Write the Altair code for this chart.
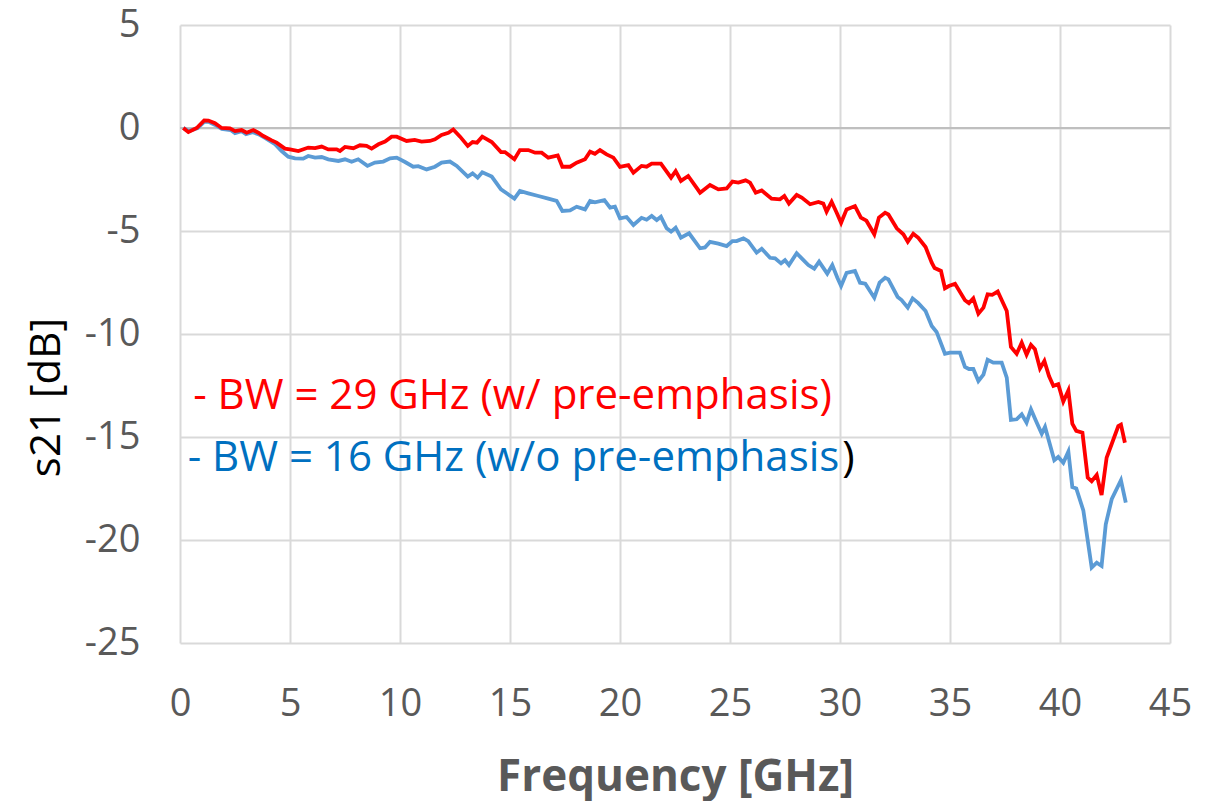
import altair as alt
import pandas as pd

# ---- data ----
freq_red = [0.15, 0.38, 0.76, 1.1, 1.29, 1.59, 1.89, 2.27, 2.5, 2.8,
            3.03, 3.33, 3.56, 3.79, 4.17, 4.39, 4.77, 5.0, 5.38, 5.83,
            6.14, 6.44, 6.74, 7.12, 7.27, 7.5, 7.88, 8.18, 8.48, 8.71,
            9.02, 9.32, 9.62, 9.85, 10.3, 10.67, 10.98, 11.36, 11.59, 11.89,
            12.2, 12.42, 12.73, 13.08, 13.3, 13.5, 13.74, 14.17, 14.59, 14.77,
            15.2, 15.45, 15.83, 16.14, 16.44, 16.74, 17.17, 17.38, 17.73, 18.03,
            18.41, 18.64, 18.86, 19.09, 19.39, 19.7, 20.0, 20.38, 20.61, 20.98,
            21.21, 21.44, 21.86, 22.32, 22.53, 22.77, 23.1, 23.64, 24.09, 24.47,
            24.85, 25.11, 25.38, 25.71, 25.91, 26.17, 26.44, 26.89, 27.27, 27.47,
            27.68, 28.03, 28.26, 28.64, 29.02, 29.24, 29.39, 29.62, 29.85, 30.05,
            30.3, 30.68, 30.95, 31.2, 31.56, 31.77, 32.05, 32.2, 32.58, 32.88,
            33.08, 33.33, 33.56, 33.89, 34.17, 34.3, 34.59, 34.77, 34.95, 35.23,
            35.68, 35.86, 36.06, 36.29, 36.52, 36.71, 36.92, 37.17, 37.58, 37.77,
            38.03, 38.26, 38.48, 38.68, 38.86, 39.09, 39.29, 39.5, 39.7, 39.92,
            40.15, 40.38, 40.56, 40.74, 41.02, 41.26, 41.44, 41.67, 41.89, 42.12,
            42.35, 42.65, 42.77, 42.95]
s21_red = [0.0, -0.2, 0.0, 0.37, 0.36, 0.23, 0.0, -0.02, -0.15, -0.1,
           -0.23, -0.1, -0.23, -0.39, -0.6, -0.71, -1.0, -1.04, -1.12, -0.95,
           -0.98, -0.9, -1.04, -1.04, -1.12, -0.92, -0.98, -0.84, -0.87, -1.0,
           -0.79, -0.66, -0.42, -0.42, -0.63, -0.58, -0.66, -0.63, -0.55, -0.34,
           -0.23, -0.07, -0.42, -0.87, -0.68, -0.71, -0.42, -0.68, -1.17, -1.17,
           -1.52, -1.07, -1.07, -1.2, -1.2, -1.44, -1.33, -1.88, -1.88, -1.68,
           -1.52, -1.15, -1.25, -1.07, -1.28, -1.44, -1.89, -1.8, -2.17, -1.84,
           -1.88, -1.73, -1.73, -2.41, -2.09, -2.57, -2.33, -3.14, -2.77, -2.98,
           -2.93, -2.6, -2.65, -2.54, -2.65, -3.14, -3.03, -3.43, -3.46, -3.3,
           -3.67, -3.25, -3.38, -3.7, -3.59, -3.67, -4.06, -3.58, -4.11, -4.6,
           -3.95, -3.79, -4.35, -4.5, -5.16, -4.35, -4.11, -4.2, -4.87, -5.16,
           -5.52, -5.13, -5.33, -5.78, -6.54, -6.8, -6.94, -7.78, -7.67, -7.56,
           -8.36, -8.5, -8.27, -9.01, -8.72, -8.07, -8.1, -7.94, -8.88, -10.63,
           -10.96, -10.42, -11.0, -10.53, -10.74, -11.67, -11.31, -12.04, -12.52, -12.44,
           -13.28, -12.74, -14.35, -14.7, -14.79, -16.97, -17.15, -16.84, -17.82, -16.0,
           -15.34, -14.47, -14.4, -15.28]

freq_blue = [0.15, 0.4, 0.8, 1.1, 1.3, 1.6, 1.9, 2.3, 2.5, 2.8,
             3.0, 3.3, 3.56, 3.9, 4.32, 4.62, 4.92, 5.23, 5.6, 5.83,
             6.14, 6.44, 6.74, 7.2, 7.5, 7.8, 8.1, 8.52, 8.86, 9.24,
             9.55, 9.85, 10.23, 10.6, 10.83, 11.21, 11.59, 11.89, 12.27, 12.58,
             13.08, 13.3, 13.53, 13.74, 14.17, 14.59, 14.85, 15.2, 15.45, 15.83,
             16.29, 16.74, 17.12, 17.38, 17.73, 18.03, 18.41, 18.64, 18.86, 19.29,
             19.55, 19.77, 20.0, 20.3, 20.61, 20.98, 21.21, 21.44, 21.67, 21.86,
             22.12, 22.32, 22.53, 22.77, 23.14, 23.64, 23.86, 24.09, 24.47, 24.85,
             25.11, 25.3, 25.61, 25.83, 26.21, 26.44, 26.82, 27.05, 27.32, 27.5,
             27.68, 28.03, 28.26, 28.56, 28.83, 29.05, 29.42, 29.65, 29.88, 30.05,
             30.3, 30.68, 30.91, 31.15, 31.56, 31.8, 32.05, 32.2, 32.62, 32.8,
             33.08, 33.3, 33.56, 33.89, 34.17, 34.39, 34.77, 35.0, 35.45, 35.68,
             35.86, 36.06, 36.29, 36.52, 36.71, 36.97, 37.35, 37.58, 37.77, 38.03,
             38.26, 38.48, 38.68, 38.94, 39.17, 39.32, 39.74, 39.92, 40.15, 40.38,
             40.56, 40.74, 41.06, 41.44, 41.67, 41.89, 42.08, 42.35, 42.77, 42.99]
s21_blue = [0.0, -0.15, 0.0, 0.3, 0.3, 0.15, -0.05, -0.1, -0.25, -0.15,
            -0.3, -0.2, -0.3, -0.5, -0.79, -1.12, -1.39, -1.47, -1.49, -1.36,
            -1.44, -1.41, -1.52, -1.6, -1.52, -1.64, -1.52, -1.84, -1.68, -1.63,
            -1.47, -1.44, -1.65, -1.88, -1.85, -2.01, -1.88, -1.68, -1.63, -1.84,
            -2.36, -2.2, -2.41, -2.15, -2.36, -2.98, -3.17, -3.43, -3.06, -3.17,
            -3.3, -3.43, -3.54, -4.03, -4.0, -3.82, -3.95, -3.54, -3.61, -3.5,
            -3.87, -3.82, -4.39, -4.32, -4.71, -4.36, -4.45, -4.27, -4.47, -4.31,
            -4.87, -5.03, -4.84, -5.32, -5.11, -5.84, -5.8, -5.53, -5.61, -5.73,
            -5.49, -5.49, -5.36, -5.49, -6.05, -5.86, -6.3, -6.33, -6.57, -6.42,
            -6.65, -6.08, -6.33, -6.65, -6.83, -6.49, -7.07, -6.65, -7.27, -7.67,
            -7.03, -6.94, -7.51, -7.56, -8.24, -7.51, -7.27, -7.35, -8.2, -8.35,
            -8.72, -8.27, -8.5, -8.88, -9.61, -9.9, -10.96, -10.9, -10.9, -11.6,
            -11.7, -11.7, -12.28, -11.97, -11.25, -11.39, -11.39, -12.12, -14.17, -14.14,
            -13.9, -14.3, -13.66, -14.3, -14.84, -14.51, -16.13, -15.97, -16.25, -15.71,
            -17.43, -17.5, -18.56, -21.34, -21.1, -21.26, -19.24, -18.02, -17.1, -18.19]

x_ticks = [0, 5, 10, 15, 20, 25, 30, 35, 40, 45]
y_ticks = [5, 0, -5, -10, -15, -20, -25]

label_texts = ["- BW = 29 GHz (w/ pre-emphasis)", "- BW = 16 GHz (w/o pre-emphasis", ")"]
label_x = [0.6, 0.35, 30.1]
label_y = [-13.0, -16.0, -16.0]
label_colors = ["#FF0000", "#0070C0", "#000000"]

# ---- tables ----
df_red = pd.DataFrame({"f": freq_red, "s21": s21_red})
df_blue = pd.DataFrame({"f": freq_blue, "s21": s21_blue})
df_zero = pd.DataFrame({"s21": [0]})
df_lab = pd.DataFrame({"f": label_x, "s21": label_y, "t": label_texts, "c": label_colors})

FONT = "Open Sans"
xscale = alt.Scale(domain=[0, 45], nice=False, zero=False)
yscale = alt.Scale(domain=[-25, 5], nice=False, zero=False)

x_axis = alt.Axis(values=x_ticks, title="Frequency [GHz]", grid=True, domain=False, ticks=False,
                  labelFlush=False, labelExpr="datum.value + ''",
                  labelFont=FONT, labelFontSize=38, labelColor="#595959", labelPadding=42,
                  titleFont=FONT, titleFontSize=44, titleFontWeight="bold", titleColor="#595959",
                  titleY=147, titleBaseline="alphabetic")
y_axis = alt.Axis(values=y_ticks, title="s21 [dB]", grid=True, domain=False, ticks=False,
                  labelFlush=False, labelExpr="datum.value + ''",
                  labelFont=FONT, labelFontSize=38, labelColor="#595959", labelPadding=40,
                  titleFont=FONT, titleFontSize=42, titleFontWeight="normal", titleColor="#000000",
                  titleX=-134, titleY=372, titleBaseline="middle", titleAngle=-90)

X = alt.X("f:Q", scale=xscale, axis=x_axis)
Y = alt.Y("s21:Q", scale=yscale, axis=y_axis)

zero_rule = alt.Chart(df_zero).mark_rule(color="#bfbfbf", strokeWidth=2).encode(y=Y)
blue = alt.Chart(df_blue).mark_line(color="#5B9BD5", strokeWidth=3.8).encode(x=X, y=Y)
red = alt.Chart(df_red).mark_line(color="#FF0000", strokeWidth=3.8).encode(x=X, y=Y)
labels = alt.Chart(df_lab).mark_text(align="left", baseline="middle", font=FONT, fontSize=42).encode(
    x=X, y=Y, text="t:N", color=alt.Color("c:N", scale=None))

chart = alt.layer(zero_rule, blue, red, labels).properties(
    width=990, height=618,
    autosize=alt.AutoSizeParams(type="none"),
    padding={"left": 180, "top": 25, "right": 50, "bottom": 158},
    background="white",
).configure_view(stroke=None).configure_axis(gridColor="#d9d9d9", gridWidth=2)

chart.save("out.html", embed_options={"renderer": "svg", "actions": False})
